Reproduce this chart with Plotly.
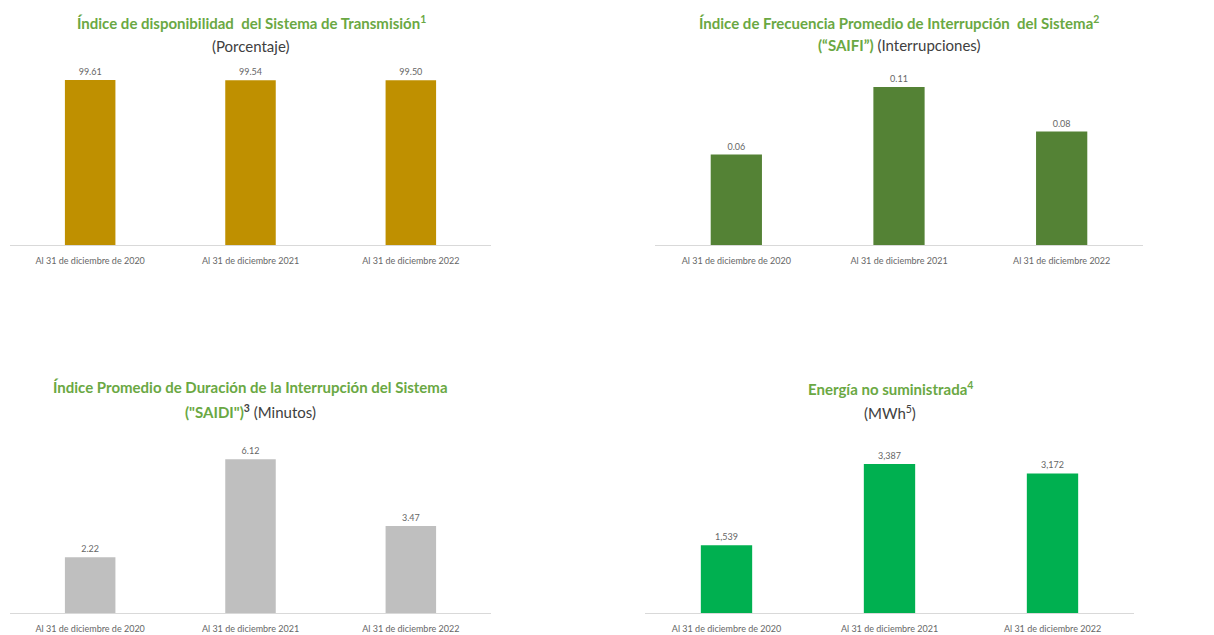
import plotly.graph_objects as go

W, H = 1214, 635
OFF = 8  # page body margin offset

categories_a = ["Al 31 de diciembre de 2020", "Al 31 de diciembre 2021", "Al 31 de diciembre 2022"]
categories_b = ["Al 31 de diciembre de 2020", "Al 31 de diciembre 2021", "Al 31 de diciembre 2022"]

disponibilidad = [99.61, 99.54, 99.50]
saifi = [0.063, 0.110, 0.079]
saidi = [2.22, 6.12, 3.47]
energia = [1539, 3387, 3172]

GREEN_T = "#6AA843"
DARK_T = "#404040"
FONT = "Lato"

fig = go.Figure()

def px_x(a, b):
    return [(a - OFF) / W, (b - OFF) / W]

def px_y(top, base):
    return [1 - (base - OFF) / H, 1 - (top - OFF) / H]

panels = [
    (disponibilidad, categories_a, "#BF9000", "%{y:.2f}", (10, 491), (60, 245), 111.7),
    (saifi, categories_b, "#548235", "%{y:.2f}", (655, 1143), (60, 245), 0.1288),
    (saidi, categories_a, "#BFBFBF", "%{y:.2f}", (10, 491), (430, 613), 7.29),
    (energia, categories_b, "#00B050", "%{y:,.0f}", (645, 1134), (430, 613), 4159),
]

for i, (vals, cats, col, fmt, xp, yp, ymax) in enumerate(panels):
    n = "" if i == 0 else str(i + 1)
    fig.add_trace(go.Bar(
        x=cats, y=vals, marker=dict(color=col, line=dict(width=0)),
        texttemplate=fmt, textposition="outside", cliponaxis=False,
        textfont=dict(size=9, color="#666666", family=FONT),
        xaxis="x" + n, yaxis="y" + n, width=0.315, hoverinfo="skip",
    ))
    fig.update_layout(**{
        "xaxis" + n: dict(domain=px_x(*xp), anchor="y" + n, showline=True,
                          linecolor="#D9D9D9", linewidth=1, ticks="",
                          ticklabelstandoff=7,
                          tickfont=dict(size=9, color="#666666", family=FONT),
                          showgrid=False, fixedrange=True),
        "yaxis" + n: dict(domain=px_y(*yp), anchor="x" + n, range=[0, ymax],
                          visible=False, showgrid=False, fixedrange=True),
    })

titles = [
    (251, 23, f"<b><span style='color:{GREEN_T}'>Índice de disponibilidad  del Sistema de Transmisión<sup>1</sup></span></b>"),
    (251, 46, f"<span style='color:{DARK_T}'>(Porcentaje)</span>"),
    (899, 22, f"<b><span style='color:{GREEN_T}'>Índice de Frecuencia Promedio de Interrupción  del Sistema<sup>2</sup></span></b>"),
    (899, 45, f"<b><span style='color:{GREEN_T}'>(“SAIFI”)</span></b> <span style='color:{DARK_T}'>(Interrupciones)</span>"),
    (250, 387, f"<b><span style='color:{GREEN_T}'>Índice Promedio de Duración de la Interrupción del Sistema</span></b>"),
    (250, 411, f"<b><span style='color:{GREEN_T}'>(\"SAIDI\")</span><sup>3</sup></b> <span style='color:{DARK_T}'>(Minutos)</span>"),
    (890, 388, f"<b><span style='color:{GREEN_T}'>Energía no suministrada<sup>4</sup></span></b>"),
    (890, 412, f"<span style='color:{DARK_T}'>(MWh<sup>5</sup>)</span>"),
]
annotations = []
for x, y, t in titles:
    annotations.append(dict(text=t, x=(x - OFF) / W, y=1 - (y - OFF) / H, xref="paper", yref="paper",
                            xanchor="center", yanchor="middle", showarrow=False,
                            font=dict(size=15, family=FONT, color=DARK_T)))

fig.update_layout(
    width=W, height=H, margin=dict(l=0, r=0, t=0, b=0),
    paper_bgcolor="white", plot_bgcolor="white",
    showlegend=False, annotations=annotations,
    font=dict(family=FONT),
)

fig.write_html("out.html", config={"displayModeBar": False})
